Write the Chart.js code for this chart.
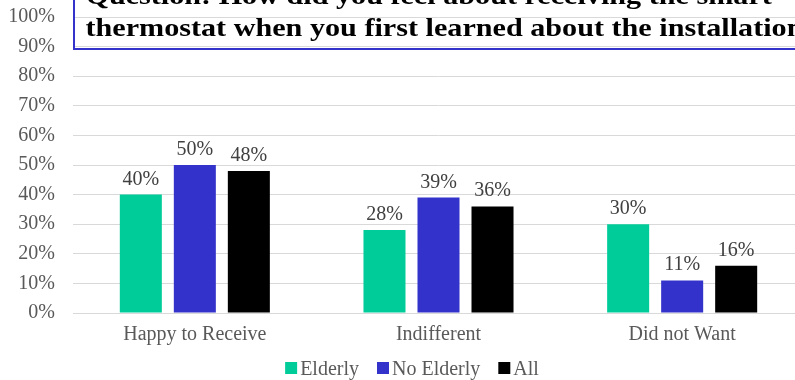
<!DOCTYPE html>
<html>
<head>
<meta charset="utf-8">
<script src="https://cdn.jsdelivr.net/npm/chart.js@4.4.1/dist/chart.umd.min.js"></script>
<style>
  html, body { margin: 0; padding: 0; overflow: hidden; background: #fff; }
  #wrap { position: relative; width: 810px; height: 380px; }
  #title {
    position: absolute; left: 73px; top: -22px; width: 800px; height: 64px;
    border: 2px solid #3333CC; padding: 0 0 4px 0;
    overflow: hidden;
  }
  #title span {
    display: block; padding-left: 9px;
    font: bold 26px "Liberation Serif", "Times New Roman", serif;
    line-height: 32px; color: #000; white-space: nowrap;
    transform: scaleX(1.16); transform-origin: 0 0;
  }
</style>
</head>
<body>
<div id="wrap">
  <canvas id="myChart" width="810" height="380"></canvas>
  <div id="title"><span>Question: How did you feel about receiving the smart<br>thermostat when you first learned about the installation</span></div>
</div>
<script>
// categories and series (percent)
const categories = ['Happy to Receive', 'Indifferent', 'Did not Want'];
const elderly = [40, 28, 30];
const noElderly = [50, 39, 11];
const all = [48, 36, 16];
const yTicks = [0, 10, 20, 30, 40, 50, 60, 70, 80, 90, 100];

const FONT = '"Liberation Serif", "Times New Roman", serif';

// value labels above bars
const barLabels = {
  id: 'barLabels',
  afterDatasetsDraw(chart) {
    const ctx = chart.ctx;
    ctx.save();
    ctx.font = '20px ' + FONT;
    ctx.fillStyle = '#404040';
    ctx.textAlign = 'center';
    ctx.textBaseline = 'alphabetic';
    chart.data.datasets.forEach((ds, i) => {
      chart.getDatasetMeta(i).data.forEach((bar, j) => {
        ctx.fillText(ds.data[j] + '%', bar.x, bar.y - 10);
      });
    });
    ctx.restore();
  }
};

// simple legend, small gap between box and text like the original
const miniLegend = {
  id: 'miniLegend',
  afterDraw(chart) {
    const ctx = chart.ctx;
    ctx.save();
    ctx.font = '20px ' + FONT;
    const box = 12, gap = 3, spacing = 18;
    const items = chart.data.datasets.map(ds => ({
      text: ds.label, color: ds.backgroundColor, w: box + gap + ctx.measureText(ds.label).width
    }));
    const total = items.reduce((s, it) => s + it.w, 0) + spacing * (items.length - 1);
    let x = 412 - total / 2;
    const y = 368;
    items.forEach(it => {
      ctx.fillStyle = it.color;
      ctx.fillRect(x, y - box / 2, box, box);
      ctx.fillStyle = '#595959';
      ctx.textBaseline = 'alphabetic';
      ctx.textAlign = 'left';
      ctx.fillText(it.text, x + box + gap, y + 7);
      x += it.w + spacing;
    });
    ctx.restore();
  }
};

new Chart(document.getElementById('myChart').getContext('2d'), {
  type: 'bar',
  data: {
    labels: categories,
    datasets: [
      { label: 'Elderly', data: elderly, backgroundColor: '#00CC99' },
      { label: 'No Elderly', data: noElderly, backgroundColor: '#3333CC' },
      { label: 'All', data: all, backgroundColor: '#000000' }
    ]
  },
  options: {
    responsive: false,
    animation: false,
    datasets: { bar: { categoryPercentage: 0.665, barPercentage: 0.778 } },
    layout: { padding: { top: 17, right: 6, bottom: 27, left: 0 } },
    plugins: { legend: { display: false }, tooltip: { enabled: false } },
    scales: {
      x: {
        grid: { display: false, drawTicks: false },
        border: { color: '#d9d9d9' },
        ticks: { font: { family: FONT, size: 20 }, color: '#595959', padding: 10 },
        afterFit(s) { s.height = 40; s.paddingLeft = 0; s.paddingRight = 0; }
      },
      y: {
        min: 0, max: 100,
        afterBuildTicks(s) { s.ticks = yTicks.map(v => ({ value: v })); },
        grid: { color: '#d9d9d9', drawTicks: false },
        border: { display: false },
        ticks: {
          font: { family: FONT, size: 20 }, color: '#595959', padding: 18,
          callback: v => v + '%'
        },
        afterFit(s) { s.width = 73; s.paddingTop = 0; s.paddingBottom = 0; }
      }
    }
  },
  plugins: [barLabels, miniLegend]
});
</script>
</body>
</html>
